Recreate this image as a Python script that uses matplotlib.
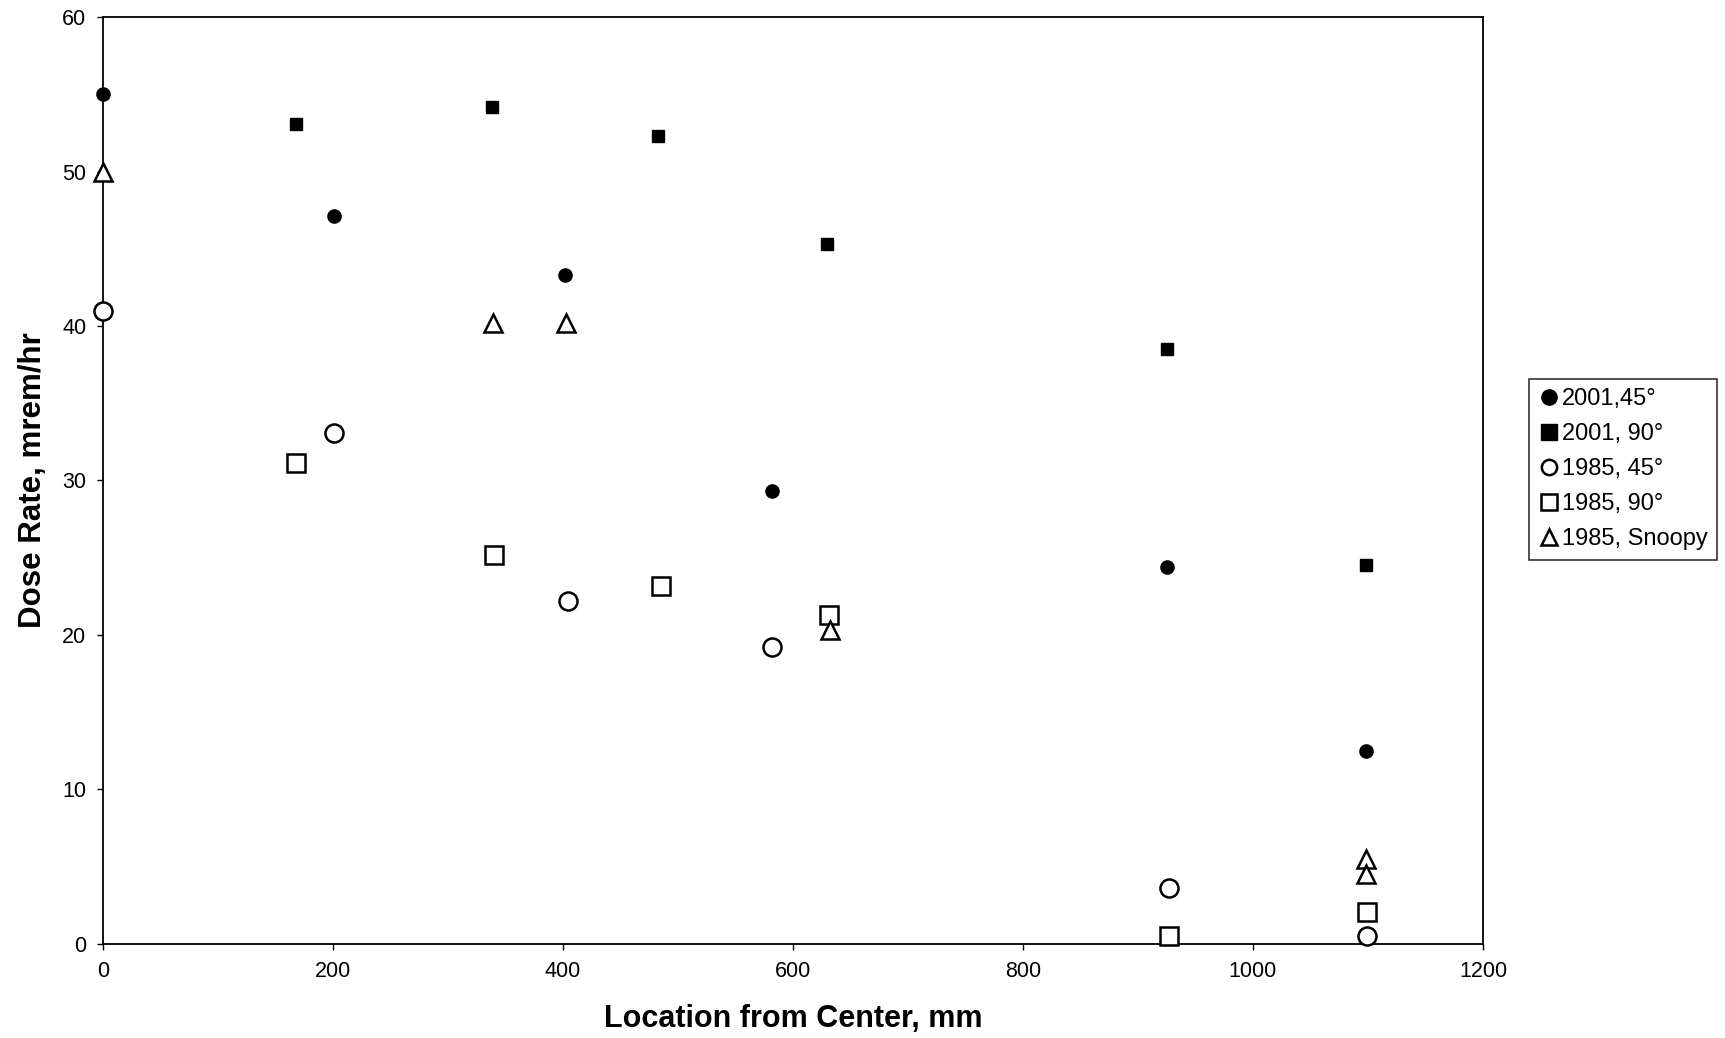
import matplotlib.pyplot as plt

plt.rcParams['font.family'] = ['Liberation Sans', 'DejaVu Sans']

# data
x_2001_45 = [0, 201, 402, 582, 925, 1098]
y_2001_45 = [55.0, 47.1, 43.3, 29.3, 24.4, 12.5]

x_2001_90 = [168, 338, 483, 630, 925, 1098]
y_2001_90 = [53.1, 54.2, 52.3, 45.3, 38.5, 24.5]

x_1985_45 = [0, 201, 404, 582, 927, 1099]
y_1985_45 = [41.0, 33.1, 22.2, 19.2, 3.6, 0.5]

x_1985_90 = [168, 340, 485, 631, 927, 1099]
y_1985_90 = [31.1, 25.2, 23.2, 21.3, 0.5, 2.1]

x_snoopy = [0, 339, 403, 632, 1098, 1098]
y_snoopy = [50.0, 40.2, 40.2, 20.3, 5.5, 4.5]

fig = plt.figure(figsize=(17.25, 10.38), dpi=100)
ax = fig.add_axes([0.0597, 0.0906, 0.80, 0.893])

ax.plot(x_2001_45, y_2001_45, 'o', color='black', markersize=9.5, linestyle='none', label='2001,45°', clip_on=False, zorder=3)
ax.plot(x_2001_90, y_2001_90, 's', color='black', markersize=9, linestyle='none', label='2001, 90°', clip_on=False, zorder=3)
ax.plot(x_1985_45, y_1985_45, 'o', mfc='white', mec='black', mew=1.8, markersize=13, linestyle='none', label='1985, 45°', clip_on=False, zorder=3)
ax.plot(x_1985_90, y_1985_90, 's', mfc='white', mec='black', mew=1.8, markersize=12.5, linestyle='none', label='1985, 90°', clip_on=False, zorder=3)
ax.plot(x_snoopy, y_snoopy, '^', mfc='white', mec='black', mew=1.8, markersize=13, linestyle='none', label='1985, Snoopy', clip_on=False, zorder=3)

ax.set_xlim(0, 1200)
ax.set_ylim(0, 60)
ax.set_xticks(range(0, 1201, 200))
ax.set_yticks(range(0, 61, 10))
ax.tick_params(direction='out', length=4, width=1, labelsize=15.5, pad=8)
for sp in ax.spines.values():
    sp.set_linewidth(1.3)

ax.set_xlabel('Location from Center, mm', fontsize=22, fontweight='bold', labelpad=16)
ax.set_ylabel('Dose Rate, mrem/hr', fontsize=22.5, fontweight='bold', labelpad=10)

leg = ax.legend(loc='center left', bbox_to_anchor=(1.033, 0.512), fontsize=17,
                frameon=True, fancybox=False, edgecolor='black',
                handletextpad=0.1, handlelength=0.9, borderpad=0.4,
                labelspacing=0.55, borderaxespad=0)
leg.get_frame().set_linewidth(1.2)
for h in leg.legend_handles:
    h.set_markersize(11)

plt.savefig('out.png', dpi=100)
